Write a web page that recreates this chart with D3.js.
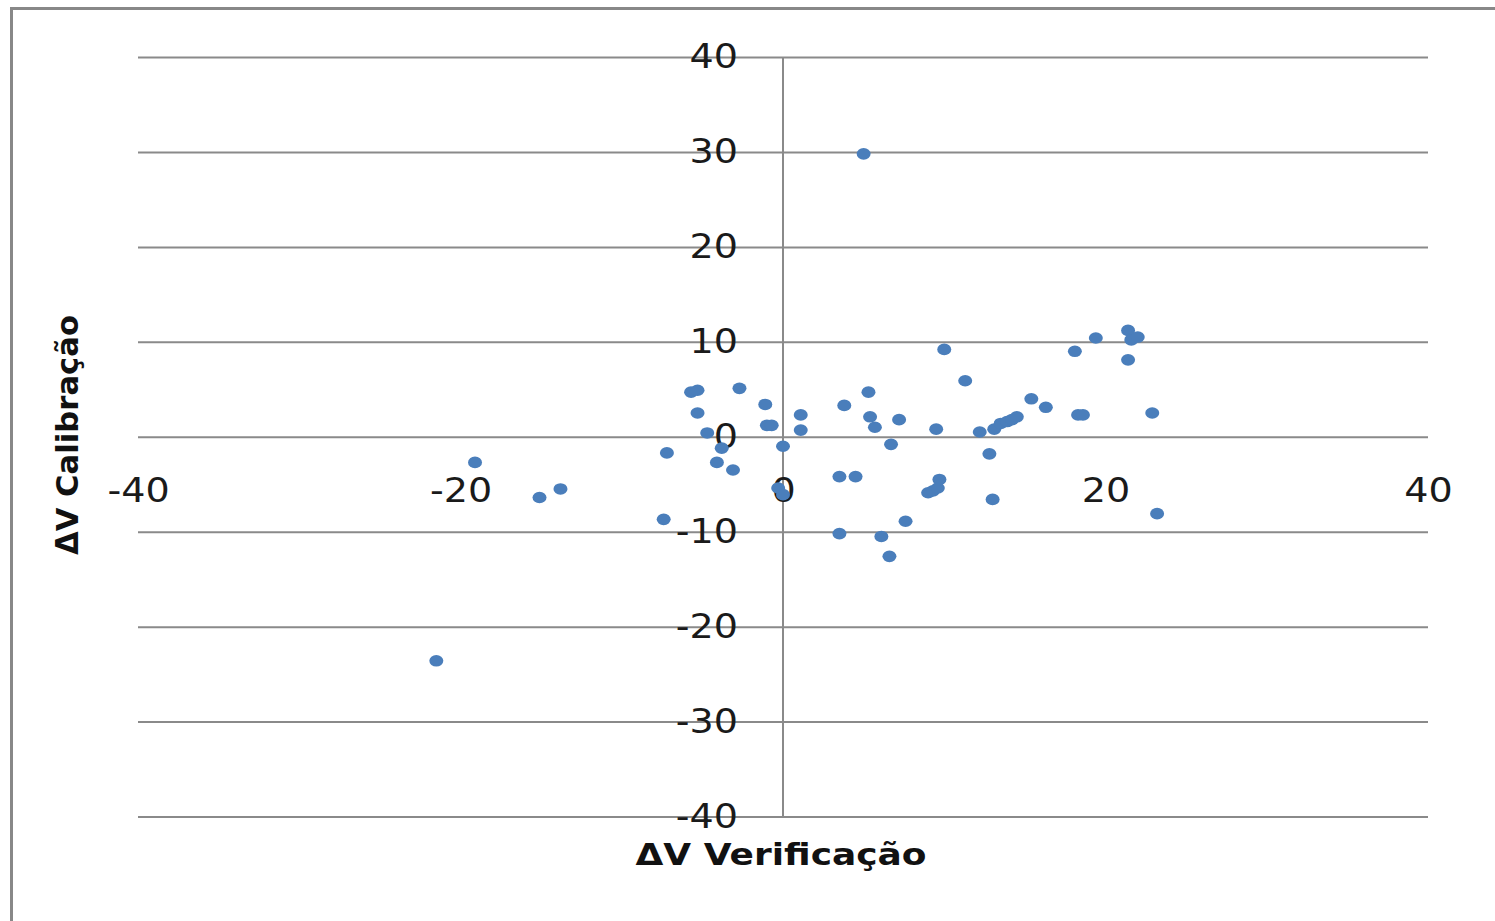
<!DOCTYPE html>
<html>
<head>
<meta charset="utf-8">
<script src="https://cdn.jsdelivr.net/npm/d3@7"></script>
<style>
  html, body { margin: 0; padding: 0; background: #fff; }
  svg { display: block; }
</style>
</head>
<body>
<svg id="chart" width="1495" height="921"></svg>
<script>
// ΔV verification vs ΔV calibration
const dvVerificacao = [
  -21.5, -19.1, -15.1, -13.8, -7.2, -7.4, -5.7, -5.3, -5.3, -4.7,
  -3.8, -4.1, -3.1, -2.7, -1.1, -1.0, -0.7, 0.0, -0.3, 0.0,
  1.1, 1.1, 3.8, 3.5, 4.5, 3.5, 5.0, 5.3, 5.4, 5.7,
  6.7, 7.2, 6.1, 6.6, 7.6, 9.0, 9.3, 9.6, 9.7, 9.5,
  10.0, 11.3, 12.2, 12.8, 13.0, 13.1, 13.5, 13.9, 14.2, 14.5,
  15.4, 16.3, 18.1, 18.3, 18.6, 19.4, 21.4, 21.6, 22.0, 21.4,
  22.9, 23.2
];
const dvCalibracao = [
  -23.6, -2.7, -6.4, -5.5, -1.7, -8.7, 4.7, 4.9, 2.5, 0.4,
  -1.2, -2.7, -3.5, 5.1, 3.4, 1.2, 1.2, -1.0, -5.4, -6.1,
  2.3, 0.7, 3.3, -4.2, -4.2, -10.2, 29.8, 4.7, 2.1, 1.0,
  -0.8, 1.8, -10.5, -12.6, -8.9, -5.9, -5.7, -5.4, -4.5, 0.8,
  9.2, 5.9, 0.5, -1.8, -6.6, 0.8, 1.4, 1.6, 1.8, 2.1,
  4.0, 3.1, 9.0, 2.3, 2.3, 10.4, 11.2, 10.2, 10.5, 8.1,
  2.5, -8.1
];
const xTicks = [-40, -20, 0, 20, 40];
const yTicks = [-40, -30, -20, -10, 0, 10, 20, 30, 40];
const xTitle = "ΔV Verificação";
const yTitle = "ΔV Calibração";

const points = dvVerificacao.map((v, i) => ({ x: v, y: dvCalibracao[i] }));

const svg = d3.select("#chart");
const gridColor = "#8a8a8a";
const font = "'DejaVu Sans', sans-serif";

// widen glyphs slightly: the chart's lettering is a touch broader than DejaVu
function widen(sel, factor) {
  sel.each(function () {
    const w = this.getComputedTextLength();
    d3.select(this).attr("textLength", w * factor).attr("lengthAdjust", "spacingAndGlyphs");
  });
}

// outer chart frame (only top and left edges fall inside the page)
svg.append("rect")
  .attr("x", 11.5).attr("y", 8.5)
  .attr("width", 1600).attr("height", 1000)
  .attr("fill", "none")
  .attr("stroke", "#888").attr("stroke-width", 3);

const x = d3.scaleLinear().domain([-40, 40]).range([138, 1428]);
const y = d3.scaleLinear().domain([-40, 40]).range([816.5, 57]);

// horizontal gridlines
svg.append("g")
  .attr("transform", `translate(${x(-40)},0)`)
  .call(d3.axisLeft(y).tickValues(yTicks).tickSize(-(x(40) - x(-40))).tickFormat(""))
  .call(g => g.select(".domain").remove())
  .call(g => g.selectAll("line").attr("stroke", gridColor).attr("stroke-width", 2));

// vertical axis line at x = 0
svg.append("line")
  .attr("x1", x(0)).attr("x2", x(0))
  .attr("y1", y(40)).attr("y2", y(-40))
  .attr("stroke", gridColor).attr("stroke-width", 2);

// y tick labels, left of the vertical axis
svg.append("g")
  .attr("transform", `translate(${x(0)},0)`)
  .call(d3.axisLeft(y).tickValues(yTicks).tickSize(0).tickPadding(45).tickFormat(d => String(d)))
  .call(g => g.select(".domain").remove())
  .call(g => g.selectAll("text")
    .attr("font-family", font).attr("font-size", 34).attr("fill", "#1a1a1a")
    .call(widen, 1.12));

// x tick labels, below the horizontal axis
svg.append("g")
  .attr("transform", `translate(0,${y(0)})`)
  .call(d3.axisBottom(x).tickValues(xTicks).tickSize(0).tickPadding(41).tickFormat(d => String(d)))
  .call(g => g.select(".domain").remove())
  .call(g => g.selectAll("text")
    .attr("font-family", font).attr("font-size", 34).attr("fill", "#1a1a1a")
    .call(widen, 1.12));

// data markers
svg.append("g")
  .selectAll("ellipse")
  .data(points)
  .join("ellipse")
  .attr("cx", d => x(d.x))
  .attr("cy", d => y(d.y))
  .attr("rx", 7)
  .attr("ry", 5.8)
  .attr("fill", "#4a7ebb");

// axis titles
svg.append("text")
  .attr("x", 781).attr("y", 865)
  .attr("text-anchor", "middle")
  .attr("font-family", font).attr("font-weight", "bold").attr("font-size", 30)
  .attr("fill", "#111")
  .text(xTitle)
  .attr("textLength", 291).attr("lengthAdjust", "spacingAndGlyphs");

svg.append("text")
  .attr("transform", `translate(78,435) rotate(-90)`)
  .attr("text-anchor", "middle")
  .attr("font-family", font).attr("font-weight", "bold").attr("font-size", 31)
  .attr("fill", "#111")
  .text(yTitle)
  .attr("textLength", 240).attr("lengthAdjust", "spacingAndGlyphs");
</script>
</body>
</html>
